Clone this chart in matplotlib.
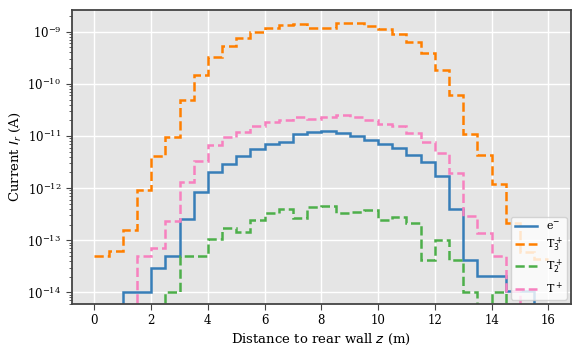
import numpy as np
import matplotlib
matplotlib.use("Agg")
import matplotlib.pyplot as plt
from matplotlib.ticker import NullFormatter

# bin edges along z (m)
edges = np.arange(0, 16.5, 0.5)

e_minus = [0, 0, 1.03e-14, 1.03e-14, 3.0e-14, 5.1e-14, 2.6e-13, 8.5e-13,
           2.0e-12, 2.9e-12, 4.1e-12, 5.7e-12, 7.1e-12, 7.7e-12, 1.09e-11, 1.19e-11,
           1.27e-11, 1.13e-11, 1.0e-11, 8.2e-12, 6.9e-12, 6.0e-12, 4.3e-12, 3.1e-12,
           1.67e-12, 3.9e-13, 4.2e-14, 2.1e-14, 2.1e-14, 1.05e-14, 1.05e-14, 0]
t3_plus = [5.1e-14, 6.2e-14, 1.54e-13, 9.3e-13, 4.2e-12, 9.6e-12, 5.0e-11, 1.5e-10,
           3.2e-10, 5.4e-10, 7.6e-10, 1.0e-9, 1.19e-9, 1.37e-9, 1.40e-9, 1.19e-9,
           1.19e-9, 1.47e-9, 1.47e-9, 1.30e-9, 1.13e-9, 8.9e-10, 6.4e-10, 3.9e-10,
           1.83e-10, 6.0e-11, 1.1e-11, 4.4e-12, 1.22e-12, 2.1e-13, 6.0e-14, 4.4e-14]
t2_plus = [0, 0, 0, 0, 0, 1.03e-14, 5.1e-14, 5.1e-14,
           1.04e-13, 1.75e-13, 1.45e-13, 2.4e-13, 3.3e-13, 4.0e-13, 2.7e-13, 4.4e-13,
           4.5e-13, 3.3e-13, 3.5e-13, 3.8e-13, 2.5e-13, 2.8e-13, 2.1e-13, 4.2e-14,
           1.0e-13, 4.2e-14, 1.03e-14, 0, 1.0e-14, 0, 0, 0]
t_plus = [0, 0, 0, 5.1e-14, 7.2e-14, 2.3e-13, 1.32e-12, 3.3e-12,
          6.6e-12, 9.4e-12, 1.17e-11, 1.54e-11, 1.83e-11, 2.0e-11, 2.26e-11, 2.16e-11,
          2.32e-11, 2.47e-11, 2.26e-11, 2.0e-11, 1.73e-11, 1.58e-11, 1.13e-11, 7.7e-12,
          4.8e-12, 1.94e-12, 2.97e-13, 1.36e-13, 5.1e-14, 1.05e-14, 0, 0]

labels = ["e$^{-}$", "T$_3^+$", "T$_2^+$", "T$^+$"]
colors = ["#377eb8", "#ff7f00", "#4daf4a", "#f781bf"]
styles = ["-", "--", "--", "--"]
series = [e_minus, t3_plus, t2_plus, t_plus]

plt.rcParams['font.family'] = ['DejaVu Serif']
plt.rcParams['mathtext.fontset'] = 'dejavusans'

fig = plt.figure(figsize=(5.81, 3.55), dpi=100)
ax = fig.add_axes([0.1234, 0.1437, 0.8594, 0.8281])
ax.set_facecolor("#E5E5E5")
ax.set_yscale("log")
for vals, lab, c, ls in zip(series, labels, colors, styles):
    ax.stairs(vals, edges, baseline=None, color=c, linestyle=ls, lw=1.8, label=lab)

ax.set_xlim(-0.8, 16.8)
ax.set_ylim(6e-15, 2.6e-9)
ax.set_xticks(np.arange(0, 17, 2))
ax.yaxis.set_minor_formatter(NullFormatter())
ax.grid(True, which="major", color="white", lw=1.0)
ax.set_axisbelow(True)
for s in ax.spines.values():
    s.set_color("#444444")
    s.set_linewidth(1.3)
ax.tick_params(which="both", direction="out", color="#444444", labelsize=8.5)
ax.tick_params(which="major", length=4)
ax.tick_params(which="minor", length=2)
ax.set_xlabel("Distance to rear wall $z$ (m)", fontsize=9.5, labelpad=3)
ax.set_ylabel("Current $I_r$ (A)", fontsize=9.5, labelpad=3)
ax.legend(loc="lower right", fontsize=8, handlelength=2.0, framealpha=0.8,
          labelspacing=0.35, borderpad=0.35, borderaxespad=0.4)
fig.savefig("out.png", dpi=100)
